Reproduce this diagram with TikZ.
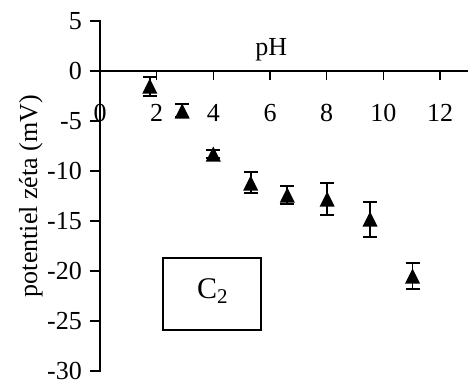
\documentclass[tikz,border=0pt]{standalone}
\usepackage{fontspec}
\setmainfont{Liberation Serif}
\tikzset{
  axisline/.style={line width=1.6bp, line cap=rect},
  tickline/.style={line width=1.6bp},
  ticklab/.style={font=\fontsize{26bp}{29bp}\selectfont, inner sep=0pt},
  errbar/.style={line width=1.6bp},
  mk/.style={fill=black},
  labelbox/.style={draw, line width=1.3bp, inner sep=0pt}
}
\begin{document}
\begin{tikzpicture}[x=1bp,y=1bp]
\useasboundingbox (0,0) rectangle (468,385);
% axis title
\node[ticklab, rotate=90, anchor=base] (ytitle) at (37,189) {potentiel zéta (mV)};
% C2 box
\draw[line width=1.3bp] (163,55) rectangle (261,127);
\node[font=\fontsize{30bp}{33bp}\selectfont, inner sep=0pt, anchor=base] (c2) at (212.5,87) {C\textsubscript{2}};
\begin{scope}[shift={(100,314)}, x=28.333bp, y=10bp]
  \draw[axisline] (0,-30) -- (0,5);
  \draw[axisline] (0,0) -- (13.2,0);
  \foreach \v in {5,0,-5,-10,-15,-20,-25,-30} {
    \draw[tickline] (0,\v) -- ++(-10bp,0);
    \node[ticklab, anchor=east] (yl\v) at ([xshift=-18bp]0,\v) {\v};
  }
  \foreach \v in {2,4,6,8,10,12} {
    \draw[tickline] (\v,0) -- ++(0,-9bp);
  }
  \foreach \v in {0,2,4,6,8,10,12} {
    \node[ticklab, anchor=base] (xl\v) at (\v,-5) {\v};
  }
  \node[ticklab, anchor=base] (ph) at (6.04,1.6) {pH};
  % data
  \foreach \px/\py/\lo/\hi in {1.76/-1.5/-2.5/-0.6, 2.9/-4.0/-4.6/-3.3, 4.0/-8.3/-8.7/-7.9, 5.32/-11.2/-12.2/-10.1, 6.61/-12.4/-13.3/-11.5, 8.02/-12.8/-14.4/-11.2, 9.53/-14.8/-16.6/-13.1, 11.03/-20.5/-21.8/-19.2} {
    \draw[errbar] (\px,\lo) -- (\px,\hi);
    \draw[errbar] ([xshift=-7bp]\px,\lo) -- ([xshift=7bp]\px,\lo);
    \draw[errbar] ([xshift=-7bp]\px,\hi) -- ([xshift=7bp]\px,\hi);
    \fill[mk] ([yshift=7.5bp]\px,\py) -- ([xshift=-7.5bp,yshift=-7.5bp]\px,\py) -- ([xshift=7.5bp,yshift=-7.5bp]\px,\py) -- cycle;
  }
\end{scope}
\end{tikzpicture}
\end{document}
